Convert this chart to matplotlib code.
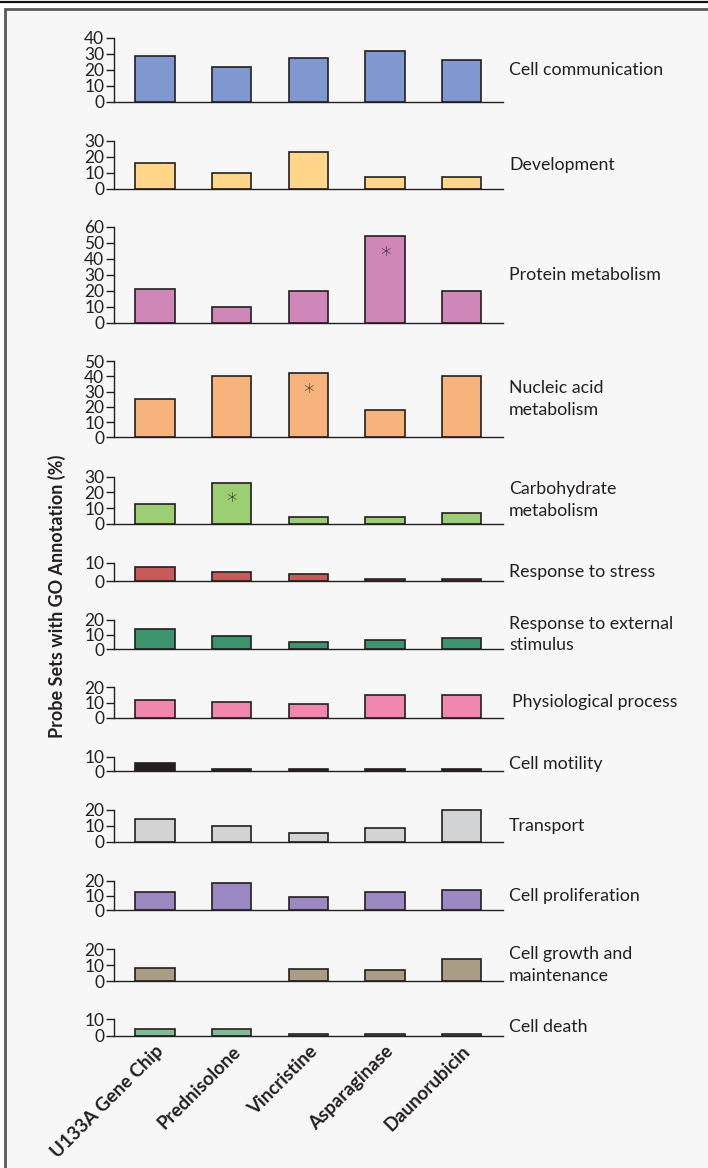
import matplotlib
matplotlib.use("Agg")
import matplotlib.pyplot as plt
from matplotlib.patches import Rectangle
from matplotlib.lines import Line2D

plt.rcParams['font.family'] = ['Lato', 'DejaVu Sans']

treatments = ['U133A Gene Chip', 'Prednisolone', 'Vincristine', 'Asparaginase', 'Daunorubicin']

categories = ['Cell communication', 'Development', 'Protein metabolism',
              'Nucleic acid\nmetabolism', 'Carbohydrate\nmetabolism', 'Response to stress',
              'Response to external\nstimulus', 'Physiological process', 'Cell motility',
              'Transport', 'Cell proliferation', 'Cell growth and\nmaintenance', 'Cell death']

cell_communication = [29, 22, 27.5, 32, 26]
development = [16, 10, 23, 7.3, 7.3]
protein_metabolism = [21, 10, 20, 54, 20]
nucleic_acid = [25.3, 40.3, 42, 18, 40]
carbohydrate = [12.8, 26, 4.3, 4.3, 7]
stress = [7.5, 4.9, 3.7, 1.2, 1.0]
external_stimulus = [14, 9.2, 4.6, 6.2, 7.6]
physiological = [11.8, 10.3, 9, 15, 15]
motility = [5.6, 1.3, 1.2, 1.1, 1.1]
transport = [14.2, 10, 5.8, 8.5, 19.8]
proliferation = [12.2, 18.2, 9.2, 12.2, 13.7]
growth = [8.4, 0, 7.4, 7, 14]
death = [4.3, 4.1, 1.0, 1.0, 1.0]

values = [cell_communication, development, protein_metabolism, nucleic_acid, carbohydrate,
          stress, external_stimulus, physiological, motility, transport, proliferation,
          growth, death]
ymax = [40, 30, 60, 50, 30, 10, 20, 20, 10, 20, 20, 20, 10]
colors = ['#7f98cf', '#ffd68a', '#cf86b8', '#f6b37b', '#9ccf74', '#c85a5a', '#3f9470',
          '#ef87ae', '#231f20', '#d2d3d5', '#9d89c2', '#a99d85', '#7fbd94']

# significant results: (panel, bar, y of asterisk)
stars = [(2, 3, 42), (3, 2, 29), (4, 1, 14)]

# pixel layout of each panel (top, bottom)
W, H = 708, 1168
panel_px = [(38, 102), (140.7, 188.7), (226.7, 322.7), (361, 437.3), (476.7, 523.7),
            (562.7, 581), (620, 649), (687.3, 717.7), (756.7, 771), (810, 842),
            (880.7, 910.3), (949.3, 981), (1019.3, 1035.7)]
x_left, x_right = 114, 503

fig = plt.figure(figsize=(W / 100, H / 100), dpi=100, facecolor='white')
fig.patches.append(Rectangle((5 / W, -0.05), 1.1, 1.05 - 9 / H, transform=fig.transFigure,
                             facecolor='#f7f7f7', edgecolor='#5a5a5a', lw=2, zorder=-5))
fig.lines.append(Line2D([0, 1], [1 - 1.5 / H, 1 - 1.5 / H], transform=fig.transFigure,
                        color='#111111', lw=1.6, zorder=-5))

xs = list(range(len(treatments)))
axes = []
for i, (top, bot) in enumerate(panel_px):
    ax = fig.add_axes([x_left / W, 1 - bot / H, (x_right - x_left) / W, (bot - top) / H])
    ax.patch.set_alpha(0)
    lws = [1.2 if v > 0 else 0 for v in values[i]]
    ax.bar(xs, values[i], width=0.51, color=colors[i], edgecolor='#231f20', lw=lws,
           clip_on=False)
    ax.set_xlim(-0.535, 4.54)
    ax.set_ylim(0, ymax[i])
    ax.set_yticks(range(0, ymax[i] + 1, 10))
    ax.tick_params(axis='y', length=6, width=1, color='#231f20', labelsize=12.5,
                   labelcolor='#231f20', pad=1)
    ax.tick_params(axis='x', length=0)
    ax.set_xticks([])
    for s in ['top', 'right']:
        ax.spines[s].set_visible(False)
    for s in ['left', 'bottom']:
        ax.spines[s].set_color('#231f20')
        ax.spines[s].set_linewidth(1)
    xlab = 1.0154 if i != 7 else 1.023
    ax.text(xlab, 0.5, categories[i], transform=ax.transAxes, va='center', ha='left',
            fontsize=12.8, color='#231f20', linespacing=1.45)
    axes.append(ax)

for p, b, y in stars:
    axes[p].text(xs[b], y, '*', ha='center', va='center', fontsize=15, color='#231f20',
                 family='DejaVu Sans', fontweight='light')

last = axes[-1]
last.set_xticks(xs)
last.set_xticklabels(treatments, rotation=45, ha='right', va='top', rotation_mode='anchor',
                     fontsize=13.5, fontweight='bold', color='#231f20')
last.tick_params(axis='x', pad=5)

fig.text(57 / W, 1 - 596 / H, 'Probe Sets with GO Annotation (%)', rotation=90,
         ha='center', va='center', fontsize=13, fontweight='bold', color='#231f20')

fig.savefig('out.png', dpi=100, facecolor=fig.get_facecolor())
